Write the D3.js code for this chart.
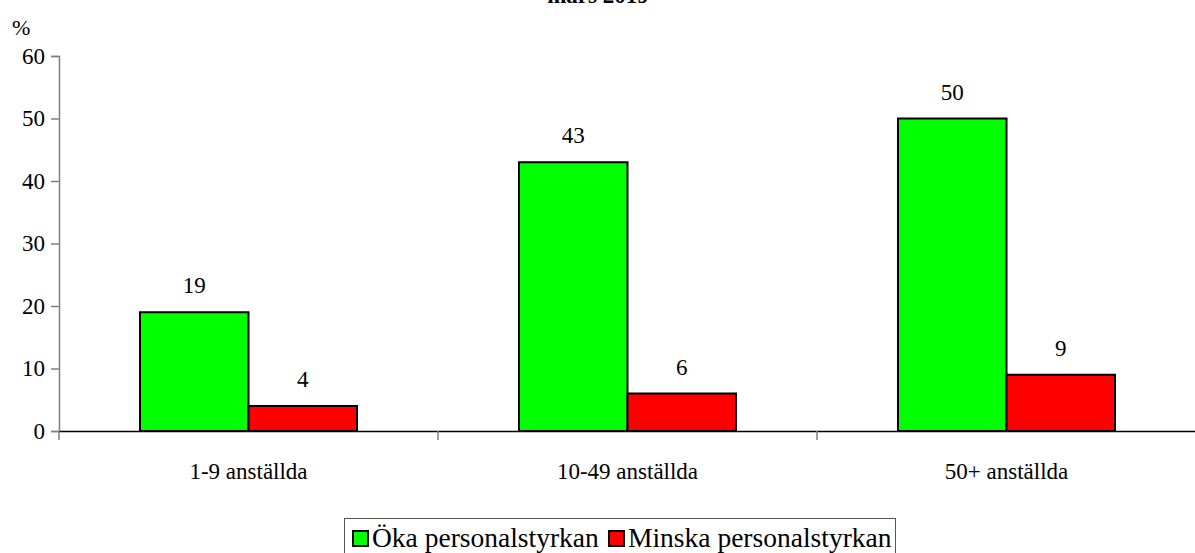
<!DOCTYPE html>
<html>
<head>
<meta charset="utf-8">
<script src="https://cdn.jsdelivr.net/npm/d3@7"></script>
<style>
  body { margin: 0; background: white; }
</style>
</head>
<body>
<div id="chart"></div>
<script>
const categories = ["1-9 anställda", "10-49 anställda", "50+ anställda"]
const series = ["Öka personalstyrkan", "Minska personalstyrkan"]
const oka = [19, 43, 50]
const minska = [4, 6, 9]
const yTicks = [0, 10, 20, 30, 40, 50, 60]
const colors = ["#00ff00", "#ff0000"]

const FONT = "'Liberation Serif'"
const width = 1195, height = 553
const svg = d3.select("#chart").append("svg")
    .attr("width", width).attr("height", height)

// title, cut off at the top in the original
svg.append("text")
    .attr("x", 598).attr("y", 3)
    .attr("text-anchor", "middle")
    .style("font-family", FONT).style("font-size", "23px").style("font-weight", "bold")
    .text("mars 2019")

const x = d3.scaleBand().domain(categories).range([59, 1196])
const xs = d3.scaleBand().domain(series).range([0, 217])
const y = d3.scaleLinear().domain([0, 60]).range([431, 56])

// y axis
const yAxis = svg.append("g").attr("transform", "translate(59,0)")
    .call(d3.axisLeft(y).tickValues(yTicks).tickSize(8).tickPadding(6))
yAxis.attr("font-family", null)
yAxis.select(".domain").attr("stroke", "#808080").attr("stroke-width", 1.5)
yAxis.selectAll(".tick line").attr("stroke", "#808080").attr("stroke-width", 1.5)
yAxis.selectAll("text").style("font-family", FONT).style("font-size", "23px").attr("fill", "black")

svg.append("text").attr("x", 12).attr("y", 35)
    .style("font-family", FONT).style("font-size", "22px").text("%")

const groups = svg.selectAll(".grp").data(categories).join("g")
    .attr("transform", d => `translate(${x(d) + (x.bandwidth() - 217) / 2},0)`)

const rows = categories.map((c, i) => [oka[i], minska[i]])

groups.each(function(c, i) {
    const g = d3.select(this)
    series.forEach((s, j) => {
        const v = rows[i][j]
        g.append("rect")
            .attr("x", xs(s)).attr("width", xs.bandwidth())
            .attr("y", y(v)).attr("height", y(0) - y(v))
            .attr("fill", colors[j]).attr("stroke", "black").attr("stroke-width", 2)
        g.append("text")
            .attr("x", xs(s) + xs.bandwidth() / 2).attr("y", y(v) - 19)
            .attr("text-anchor", "middle")
            .style("font-family", FONT).style("font-size", "23px")
            .text(v)
    })
})

// x axis
const xAxis = svg.append("g").attr("transform", "translate(0,431)")
    .call(d3.axisBottom(x).tickSize(0).tickPadding(32))
xAxis.attr("font-family", null)
xAxis.select(".domain").attr("stroke", "black").attr("stroke-width", 1.5)
xAxis.selectAll("text").style("font-family", FONT).style("font-size", "23px").attr("fill", "black")
svg.append("g").selectAll("line").data(categories.slice(1)).join("line")
    .attr("x1", d => x(d)).attr("x2", d => x(d))
    .attr("y1", 431).attr("y2", 440)
    .attr("stroke", "#808080").attr("stroke-width", 1.5)
svg.append("line").attr("x1", 59).attr("x2", 59).attr("y1", 431).attr("y2", 440)
    .attr("stroke", "#808080").attr("stroke-width", 1.5)

// legend
const legend = svg.append("g")
legend.append("rect").attr("x", 344.5).attr("y", 518.5).attr("width", 551).attr("height", 40)
    .attr("fill", "white").attr("stroke", "#555").attr("stroke-width", 1)
const legX = [353, 609]
series.forEach((s, j) => {
    legend.append("rect").attr("x", legX[j]).attr("y", 531).attr("width", 15).attr("height", 15)
        .attr("fill", colors[j]).attr("stroke", "black").attr("stroke-width", 2)
    legend.append("text").attr("x", legX[j] + 19).attr("y", 547)
        .style("font-family", FONT).style("font-size", "27.5px").text(s)
})
</script>
</body>
</html>
